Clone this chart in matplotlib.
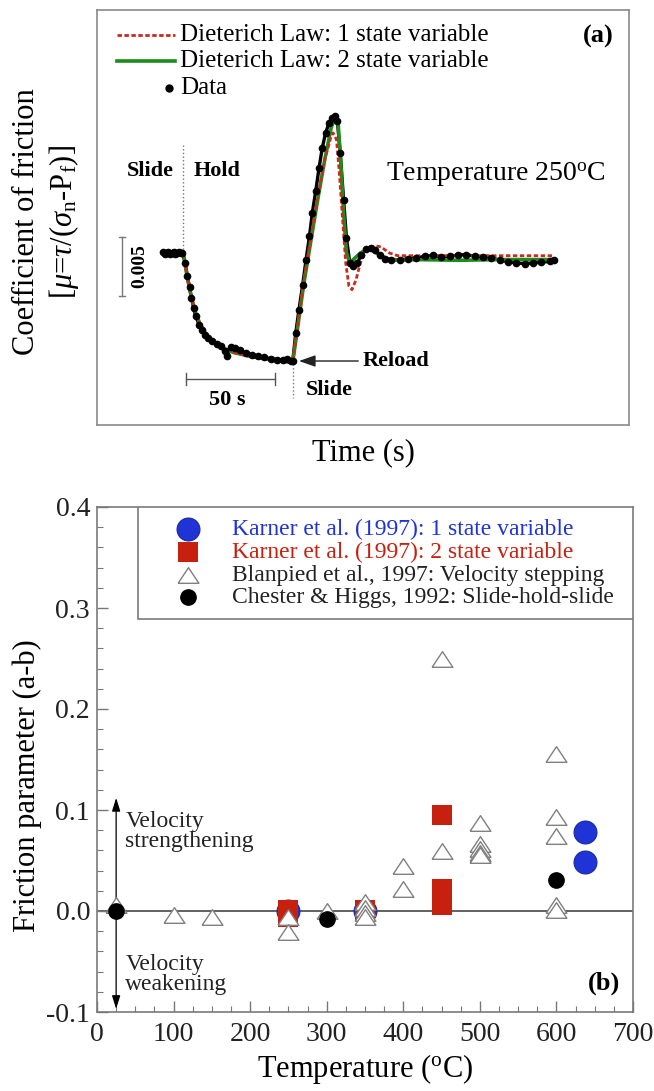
import matplotlib
matplotlib.use('Agg')
import matplotlib.pyplot as plt
from matplotlib.patches import Rectangle

plt.rcParams['font.family'] = ['Liberation Serif', 'DejaVu Serif']
plt.rcParams['mathtext.fontset'] = 'custom'
plt.rcParams['mathtext.rm'] = 'Liberation Serif'
plt.rcParams['mathtext.it'] = 'Liberation Serif:italic'
plt.rcParams['mathtext.bf'] = 'Liberation Serif:bold'
plt.rcParams['axes.unicode_minus'] = False

# ---------------- panel (a): slide-hold-slide at 250 C ----------------
# time (s) and friction change (x 1e-3) relative to steady state
t_data = [37, 38, 39, 40, 41, 42, 43, 44, 45, 46, 47, 48,
          49.6, 50.8, 52.0, 53.1, 54.3, 55.5, 57.4, 59.0, 60.6, 62.5, 64.8, 67.2,
          69.5, 71.9, 73.0, 75.4, 77.7, 80.1, 83.6, 87.1, 90.6, 94.1, 97.6, 101.1,
          104.6, 107.0, 108.8, 110.0,
          111.7, 113.5, 115.6, 117.5, 119.4, 121.0, 122.9, 124.8, 126.6, 128.5,
          130.4, 132.0, 133.9, 135.1, 136.7, 138.6, 140.2, 142.1, 144.0, 146.3,
          148.6, 151.0, 153.8, 156.1, 158.9, 162.0, 165.5, 170.2, 174.9, 179.5,
          184.2, 188.9, 193.6, 198.3, 202.9, 207.6, 212.3, 217.0, 221.7, 226.4,
          231.0, 235.7, 240.4, 245.1, 249.8, 254.4, 256.8]
dmu_data = [0.05, -0.05, 0.0, 0.05, -0.05, 0.0, 0.05, -0.05, 0.0, 0.05, 0.0, 0.0,
            -0.85, -1.98, -2.88, -3.81, -4.66, -5.37, -6.07, -6.50, -6.92, -7.20, -7.48, -7.68,
            -7.91, -8.33, -8.70, -7.96, -8.05, -8.25, -8.47, -8.61, -8.75, -8.84, -8.95, -9.04,
            -9.09, -8.98, -9.12, -9.18,
            -6.78, -4.80, -2.68, -0.56, 1.41, 3.39, 5.22, 7.20, 8.90, 10.17,
            11.01, 11.44, 11.58, 11.15, 8.47, 4.52, 1.27, -0.85, -1.07, -0.85,
            -0.14, 0.34, 0.42, 0.23, -0.14, -0.51, -0.62, -0.56, -0.51, -0.42,
            -0.28, -0.20, -0.34, -0.28, -0.17, -0.14, -0.28, -0.34, -0.40, -0.62,
            -0.73, -0.85, -0.90, -0.85, -0.79, -0.71, -0.62]

t_model1 = [48.5, 50.8, 53.1, 55.5, 57.8, 61.3, 64.8, 69.5, 76.5, 85.9, 97.6, 109.3,
            110.0, 116.3, 123.4, 128.0, 131.6, 132.7, 134.6, 136.2, 137.9, 139.8,
            141.6, 143.3, 145.6, 148.0, 151.5, 156.1, 159.7, 164.3, 169.0, 256.8]
dmu_model1 = [0.0, -2.12, -3.81, -5.08, -5.99, -6.92, -7.48, -7.96, -8.42, -8.75, -9.04, -9.26,
              -9.26, -2.26, 4.24, 7.91, 9.88, 10.17, 9.60, 6.78, 3.11, -0.85,
              -2.82, -3.11, -2.26, -0.85, 0.28, 0.62, 0.51, 0.0, -0.23, -0.23]

t_model2 = [48.5, 50.8, 53.1, 55.5, 57.8, 61.3, 64.8, 69.5, 76.5, 85.9, 97.6, 109.3,
            110.0, 116.3, 123.4, 128.0, 131.6, 133.9, 135.5, 136.9, 138.6, 140.2,
            142.1, 144.4, 148.0, 151.5, 154.9, 158.5, 163.1, 170.2, 179.5, 202.9, 226.4, 256.8]
dmu_model2 = [0.0, -2.12, -3.81, -5.08, -5.99, -6.92, -7.48, -7.96, -8.42, -8.75, -9.04, -9.26,
              -9.26, -2.54, 3.95, 7.91, 10.59, 11.58, 11.01, 7.91, 3.39, 0.0,
              -0.85, -0.51, 0.0, 0.28, 0.23, -0.14, -0.48, -0.62, -0.56, -0.62, -0.56, -0.56]

legend_a = ['Dieterich Law: 1 state variable', 'Dieterich Law: 2 state variable', 'Data']

# ---------------- panel (b): (a-b) versus temperature ----------------
karner1_T = [250, 350, 637, 637]
karner1_ab = [0.0, 0.0, 0.078, 0.049]
karner2_T = [250, 250, 350, 450, 450, 450, 450]
karner2_ab = [0.001, -0.006, 0.001, 0.095, 0.022, 0.014, 0.006]
blanpied_T = [25, 100, 150, 250, 250, 300, 350, 350, 350, 350, 400, 400, 450, 450,
              500, 500, 500, 500, 500, 600, 600, 600, 600, 600]
blanpied_ab = [0.006, -0.004, -0.006, -0.006, -0.021, 0.0, 0.009, 0.003, -0.002, -0.006,
               0.045, 0.022, 0.250, 0.059, 0.087, 0.066, 0.061, 0.057, 0.055,
               0.155, 0.093, 0.074, 0.006, 0.001]
chester_T = [25, 300, 600]
chester_ab = [0.0, -0.008, 0.031]
legend_b = ['Karner et al. (1997): 1 state variable',
            'Karner et al. (1997): 2 state variable',
            'Blanpied et al., 1997: Velocity stepping',
            'Chester & Higgs, 1992: Slide-hold-slide']
x_ticks = [0, 100, 200, 300, 400, 500, 600, 700]
y_ticks = [-0.1, 0.0, 0.1, 0.2, 0.3, 0.4]

BLUE = '#1f33d6'
RED = '#c8200f'
GREEN = '#1c8c1c'
DRED = '#cc2a1e'
TRI = [(-1, -0.75), (1, -0.75), (0, 0.75), (-1, -0.75)]

W, H = 654, 1091
fig = plt.figure(figsize=(W / 100, H / 100), dpi=100)

def box(l, t, r, b):
    return [l / W, 1 - b / H, (r - l) / W, (b - t) / H]

# ================= panel (a) =================
ax = fig.add_axes(box(97, 10, 629, 425))
ax.set_xlim(0, 299)
ax.set_ylim(-14.57, 20.58)
ax.set_xticks([])
ax.set_yticks([])
for s in ax.spines.values():
    s.set_color('#8a8a8a')
    s.set_linewidth(1.2)

ax.plot(t_data, dmu_data, '-', color='black', lw=2.4, zorder=2)
ax.plot(t_model2, dmu_model2, '-', color=GREEN, lw=2.6, zorder=3)
ax.plot(t_model1, dmu_model1, linestyle=(0, (1.6, 0.9)), color=DRED, lw=2.0, zorder=4)
ax.plot(t_data, dmu_data, 'o', color='black', ms=4.5, zorder=5)

# legend (a)
ax.plot([11.2, 43.8], [18.46, 18.46], linestyle=(0, (1.6, 0.9)), color=DRED, lw=2.0)
ax.plot([11.2, 43.8], [16.26, 16.26], '-', color=GREEN, lw=2.6)
ax.plot([40.4], [13.98], 'o', color='black', ms=5)
for yy, lab in zip([18.46, 16.26, 13.98], legend_a):
    ax.text(46.5, yy, lab, fontsize=18, va='center', ha='left')
ax.text(281.5, 18.3, '(a)', fontsize=19, fontweight='bold', ha='center', va='center')

# guide lines / scale bars
ax.plot([48.4, 48.4], [0.0, 9.15], ':', color='#777777', lw=1.0)
ax.plot([110.1, 110.1], [-9.4, -12.3], ':', color='#777777', lw=1.0)
ax.plot([14.0, 14.0], [1.36, -3.64], '-', color='#777777', lw=1.0)
ax.plot([12.2, 15.8], [1.36, 1.36], '-', color='#777777', lw=1.0)
ax.plot([12.2, 15.8], [-3.64, -3.64], '-', color='#777777', lw=1.0)
ax.text(23.9, -1.15, '0.005', rotation=90, fontsize=14, fontweight='bold', ha='center', va='center')
ax.plot([50, 100], [-10.7, -10.7], '-', color='#555555', lw=1.0)
ax.plot([50, 50], [-10.2, -11.2], '-', color='#555555', lw=1.0)
ax.plot([100, 100], [-10.2, -11.2], '-', color='#555555', lw=1.0)
ax.text(73, -12.45, '50 s', fontsize=16, fontweight='bold', ha='center', va='center')
ax.annotate('', xy=(113.5, -9.15), xytext=(146.8, -9.15),
            arrowprops=dict(arrowstyle='-|>,head_length=1.0,head_width=0.35',
                            color='#222222', lw=1.0, shrinkA=0, shrinkB=0))
ax.text(149.1, -9.15, 'Reload', fontsize=16, fontweight='bold', ha='left', va='center')
ax.text(117.5, -11.6, 'Slide', fontsize=16, fontweight='bold', ha='left', va='center')
ax.text(30.2, 6.95, 'Slide', fontsize=16, fontweight='bold', ha='center', va='center')
ax.text(67.6, 6.95, 'Hold', fontsize=16, fontweight='bold', ha='center', va='center')
ax.text(224, 6.6, r'Temperature 250$^{\rm o}$C', fontsize=20, ha='center', va='center')

fig.text(27 / W, 1 - 222 / H, 'Coefficient of friction', rotation=90,
         fontsize=22, ha='center', va='center')
fig.text(64 / W, 1 - 222 / H, r'[$\mu$=$\tau$/($\sigma_{\rm n}$-P$_{\rm f}$)]', rotation=90,
         fontsize=22, ha='center', va='center')
fig.text(363 / W, 1 - 453 / H, 'Time (s)', fontsize=22, ha='center', va='center')

# ================= panel (b) =================
bx = fig.add_axes(box(97, 507, 633, 1012))
bx.set_xlim(0, 700)
bx.set_ylim(-0.1, 0.4)
for s in bx.spines.values():
    s.set_color('#7a7a7a')
    s.set_linewidth(1.2)
bx.set_xticks(x_ticks)
bx.set_xticks(range(0, 701, 25), minor=True)
bx.set_yticks(y_ticks)
bx.set_yticks([i / 100 for i in range(-10, 41, 2)], minor=True)
bx.set_xticklabels([str(v) for v in x_ticks])
bx.set_yticklabels(['%.1f' % v for v in y_ticks])
bx.tick_params(which='both', direction='in', color='#777777', top=False, right=False)
bx.tick_params(which='major', length=8, width=1.0, labelsize=20, labelcolor='#222222')
bx.tick_params(which='minor', length=4, width=0.8)
bx.tick_params(axis='x', pad=7)
bx.tick_params(axis='y', pad=5)

bx.axhline(0, color='#555555', lw=1.3, zorder=1)
bx.plot(karner1_T, karner1_ab, 'o', ms=16.5, color=BLUE, mec='#1a2aa0', mew=0.8, zorder=3)
bx.plot(karner2_T, karner2_ab, 's', ms=14.4, color=RED, mec=RED, mew=0, zorder=4)
bx.plot(blanpied_T, blanpied_ab, marker=TRI, ls='none', ms=15, mfc='white', mec='#808080',
        mew=1.0, zorder=5)
bx.plot(chester_T, chester_ab, 'o', ms=11, color='black', zorder=6)

# velocity arrows
bx.annotate('', xy=(25, 0.112), xytext=(25, 0.0),
            arrowprops=dict(arrowstyle='-|>,head_length=0.8,head_width=0.25', color='black',
                            lw=0.9, shrinkA=0, shrinkB=0), zorder=2)
bx.annotate('', xy=(25, -0.097), xytext=(25, 0.0),
            arrowprops=dict(arrowstyle='-|>,head_length=0.8,head_width=0.25', color='black',
                            lw=0.9, shrinkA=0, shrinkB=0), zorder=2)
bx.text(37, 0.079, 'Velocity\nstrengthening', fontsize=17, ha='left', va='center',
        linespacing=0.95, color='#222222')
bx.text(37, -0.063, 'Velocity\nweakening', fontsize=17, ha='left', va='center',
        linespacing=0.95, color='#222222')
bx.text(662, -0.072, '(b)', fontsize=19, fontweight='bold', ha='center', va='center')

# legend (b)
lx0, ly0 = (138 - 97) / 536, (1012 - 619) / 505
bx.add_patch(Rectangle((lx0, ly0), 1 - lx0, 1 - ly0, transform=bx.transAxes,
                       facecolor='white', edgecolor='#7a7a7a', lw=1.2, zorder=7))
rows = [(1012 - p) / 505 for p in (529, 552, 575, 597)]
mx = (188 - 97) / 536
tx = (232 - 97) / 536
styles = [dict(marker='o', ms=16.5, color=BLUE, mec='#1a2aa0', mew=0.8),
          dict(marker='s', ms=14.4, color=RED, mew=0),
          dict(marker=TRI, ms=15, mfc='white', mec='#808080', mew=1.0),
          dict(marker='o', ms=11, color='black')]
colors = [BLUE, RED, '#222222', '#222222']
for yy, lab, st, c in zip(rows, legend_b, styles, colors):
    bx.plot([mx], [yy], ls='none', transform=bx.transAxes, zorder=8, clip_on=False, **st)
    bx.text(tx, yy, lab, fontsize=17, color=c, ha='left', va='center',
            transform=bx.transAxes, zorder=8)

bx.set_xlabel(r'Temperature ($^{\rm o}$C)', fontsize=22, labelpad=4)
fig.text(27 / W, 1 - 786 / H, 'Friction parameter (a-b)', rotation=90,
         fontsize=22, ha='center', va='center')

fig.savefig('out.png', dpi=100)
